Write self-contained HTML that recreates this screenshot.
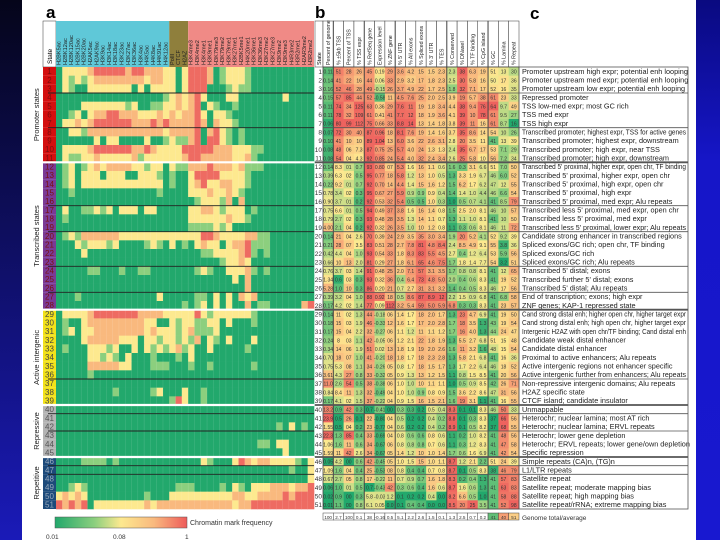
<!DOCTYPE html>
<html><head><meta charset="utf-8">
<style>
html,body{margin:0;padding:0;width:720px;height:540px;overflow:hidden;background:#fff}
svg{display:block;font-family:"Liberation Sans",sans-serif}
</style></head>
<body>
<svg id="fig" width="720" height="540" viewBox="0 0 720 540">
<defs>
<linearGradient id="lbg" x1="0" y1="0" x2="0" y2="1"><stop offset="0" stop-color="#05051a"/><stop offset="1" stop-color="#1a1ab8"/></linearGradient>
<linearGradient id="rbg" x1="0" y1="0" x2="0" y2="1"><stop offset="0" stop-color="#0a0a80"/><stop offset="0.3" stop-color="#1616c8"/><stop offset="1" stop-color="#1818d0"/></linearGradient>
<linearGradient id="cbar" x1="0" y1="0" x2="1" y2="0"><stop offset="0" stop-color="#22a86c"/><stop offset="0.3" stop-color="#8ccf7e"/><stop offset="0.5" stop-color="#fde98f"/><stop offset="0.75" stop-color="#f9b97e"/><stop offset="1" stop-color="#ee5b5a"/></linearGradient>
</defs>
<rect x="0" y="0" width="22" height="540" fill="url(#lbg)"/>
<rect x="696" y="0" width="24" height="540" fill="url(#rbg)"/>
<text x="46" y="18" font-size="17" font-weight="bold">a</text>
<text x="315" y="18" font-size="17" font-weight="bold">b</text>
<text x="530" y="19" font-size="17" font-weight="bold">c</text>
<g id="hm"></g><g id="tb"></g>
<rect x="55" y="517" width="132" height="11" fill="url(#cbar)" stroke="#555" stroke-width="0.5"/>
<text x="46" y="539" font-size="6.5" fill="#333">0.01</text>
<text x="113" y="539" font-size="6.5" fill="#333">0.08</text>
<text x="185" y="539" font-size="6.5" fill="#333">1</text>
<text x="190" y="525" font-size="7" fill="#333">Chromatin mark frequency</text>
</svg>
<script>
const NS='http://www.w3.org/2000/svg';
const acetylMarks=["H2BK5ac","H2BK12ac","H2BK120ac","H2BK15ac","H2BK20ac","H2AK5ac","H2AK9ac","H3K9ac","H3K14ac","H3K18ac","H3K23ac","H3K27ac","H3K36ac","H3K4ac","H4K5ac","H4K8ac","H4K91ac","H4K12ac"];
const otherMarks=["PolII","CTCF","H2AZ"];
const methMarks=["H3K4me3","H3K4me2","H3K4me1","H3K9me1","H3K79me3","H3K79me2","H3K79me1","H3K27me1","H2BK5me1","H4K20me1","H3K36me1","H3K36me3","H3K27me2","H3K27me3","H3K9me2","H3K9me3","H4R3me2","H3R2me1","H2AR3me2","H3R2me2"];
const markLevels=[
"022223444443443332202"+"44430122210000000000",
"021212333333332332202"+"44430122210000000000",
"021002222222020222202"+"44400012110000000000",
"000000000000000001232"+"34200022000000020000",
"000022222221200112232"+"34021001000000000000",
"001202334433322232323"+"34202210000000000000",
"022323444444333434333"+"34303221000000000000",
"002213333333333332333"+"34034210100000000000",
"000000202200002001211"+"34044210100000000000",
"022223444444334322224"+"44443332221100000000",
"021122322222312222223"+"44333332231000000000",
"012012323333221220211"+"33343332311100000000",
"012022202220022210100"+"24444222210000000000",
"012022222222222220100"+"23422332210000000000",
"001000000000000010000"+"22232232100000000000",
"000000000000000000000"+"01222130300000000000",
"020011212022202200000"+"22332122201000000000",
"010000000000000000000"+"22222232210000000000",
"000000000000000000000"+"11112120000000000000",
"012133333322222222222"+"22443222233110000000",
"000212221200001210201"+"02322023341110000000",
"000020000000000000000"+"00112222341010000000",
"000000000000000000000"+"00000122320000000000",
"000001100010011000000"+"01210022231010000000",
"000000000000000000000"+"00000002030000000000",
"000000000000000000000"+"00000000030000000000",
"000100000000000020000"+"01102020323000000000",
"000000000000000000001"+"01202020030110000034",
"022223444444433332222"+"24212222221000000000",
"010023333333332200212"+"21122020001000000000",
"012022333333332322212"+"31112000000000000000",
"000023333322202212212"+"13021020002000000000",
"010002221200202121231"+"20020000010000000000",
"000002212102000100010"+"20000000000000000000",
"000003333322000111000"+"10010000001000000000",
"000001000000000000000"+"00000000000000000000",
"000000000000000000000"+"00000000000000000000",
"000000000100000120002"+"00100000000000000000",
"000000000000000000142"+"00100000000000000000",
"000000000000000000000"+"00000000000000000000",
"000000000000000000000"+"00000000000000000000",
"000000000000000000000"+"00000000000000102010",
"000000000000000000000"+"00000000000000000000",
"000000000000000000000"+"00000000000110220000",
"000000000000000000000"+"00000000000000020000",
"000011110100000000000"+"00210002432332222102",
"000000000000000000000"+"00000000000000001002",
"000000000000000000000"+"00000000000000000002",
"001210000000000000011"+"10000102102223332334",
"232320000000001000222"+"22222223322333343444",
"434340222222223233333"+"33333332334444444444"];
const groupNames=["Promoter states","Transcribed states","Active intergenic","Repressive","Repetitive"];
const groupStarts=[1,12,29,40,46];
const groupEnds=[11,28,39,45,51];
const groupColors=["#d40f0f","#7a3a96","#f2e21a","#b4b4b4","#1d4a7a"];
const innerBreaks=[3,7,16,19,23,26,36,40,42,46,47];
const tableHeaders=["Percent of genome","% ±5kb TSS","Percent of TSS","% TSS expr","% RefSeq gene","Expression level","% ZNF gene","% 5' UTR","% All exons","% Spliced exons","% 3' UTR","% TES","% Conserved","% DNaseI","% TF binding","% CpG island","% GC","% Lamina","% Repeat"];
const tableRows=[
"0.11 51 28 26 45 0.19 29 3.6 4.2 15 1.5 2.3 2.3 38 6.3 19 51 13 30",
"0.14 41 22 16 44 0.06 33 2.9 3.2 17 1.8 2.3 2.5 30 5.8 16 50 17 36",
"0.16 52 46 28 49 -0.15 26 3.7 4.9 22 1.7 2.5 1.8 32 7.1 17 52 16 35",
"0.15 57 85 44 52 -0.58 11 4.5 7.6 25 2.0 2.5 3.9 19 5.7 38 61 23 33",
"0.11 74 34 125 63 0.36 29 7.6 11 19 1.8 3.4 4.4 38 9.4 76 64 9.7 49",
"0.11 78 32 109 61 0.41 41 7.7 12 18 1.9 3.6 4.1 39 10 78 61 9.5 27",
"0.06 80 99 112 75 0.66 33 8.8 14 13 1.4 1.8 3.8 39 11 16 61 8.7 16",
"0.07 72 30 40 87 0.96 18 8.1 7.6 19 1.4 1.6 3.7 35 8.6 14 54 10 26",
"0.10 41 10 10 89 1.04 13 6.0 3.6 22 2.6 3.1 2.8 20 3.5 11 41 13 39",
"0.08 48 06 7.3 87 0.75 25 5.7 4.0 24 1.3 1.3 2.4 35 6.7 17 53 7.1 29",
"0.08 54 04 4.3 92 0.85 24 5.4 4.0 32 2.4 3.4 2.6 25 5.8 10 56 7.2 34",
"0.14 8.3 01 0.7 93 0.80 07 5.3 1.6 16 1.1 0.6 1.6 0.3 3.1 6.6 51 7.0 50",
"0.39 6.3 02 0.5 95 0.77 18 5.8 1.2 13 1.0 0.5 1.3 3.3 1.9 6.7 46 6.0 52",
"0.22 9.2 01 0.7 92 0.70 14 4.4 1.4 15 1.6 1.2 1.5 6.2 1.7 6.2 47 12 55",
"0.78 3.4 02 0.3 95 0.67 27 5.9 0.9 0.9 0.9 0.4 1.4 1.4 1.0 4.4 46 6.6 54",
"0.90 3.7 01 0.2 92 0.53 32 5.4 0.5 0.5 1.0 0.3 1.0 0.5 0.7 4.1 41 8.5 79",
"0.75 6.6 01 0.5 94 0.49 37 3.8 1.6 16 1.4 0.8 1.5 2.5 2.0 8.1 46 10 57",
"0.79 2.7 02 0.3 93 0.48 28 3.5 1.3 14 1.1 0.7 1.3 1.1 1.0 8.1 41 10 50",
"4.00 2.1 04 0.2 92 0.32 26 3.5 1.0 10 1.2 0.8 1.1 0.3 0.6 8.1 46 11 72",
"0.14 21 04 2.6 70 0.39 24 2.9 3.5 35 3.0 3.4 1.9 20 5.2 4.1 52 9.2 39",
"0.21 28 07 3.5 83 0.51 28 2.7 7.8 81 4.8 8.4 2.4 8.5 4.9 9.1 55 3.8 36",
"0.42 4.4 04 1.0 93 0.54 33 1.8 8.3 83 5.5 4.5 2.7 0.4 1.2 6.4 53 5.9 56",
"0.66 10 13 2.0 81 0.29 27 1.8 6.1 65 4.6 7.5 1.7 1.8 1.4 7.7 54 3.2 51",
"0.76 3.7 03 1.4 91 0.48 25 2.0 7.1 57 3.1 3.5 1.7 0.8 0.8 8.1 41 12 65",
"1.34 0.6 03 0.3 93 0.32 36 0.4 6.4 73 4.8 5.0 2.0 0.4 0.6 8.3 41 19 52",
"5.28 1.0 10 0.3 86 0.20 21 0.7 2.7 31 3.1 3.2 1.4 0.4 0.5 8.3 46 17 56",
"0.39 3.2 04 1.0 88 0.92 18 0.5 8.6 87 8.9 12 2.2 1.5 0.9 6.8 41 6.8 58",
"0.17 4.2 02 1.4 77 0.09 112 3.2 5.4 59 5.0 5.9 6.8 0.3 0.3 8.3 41 23 57",
"0.14 11 02 1.3 44 -0.18 06 1.4 1.7 18 2.0 1.7 1.3 23 4.7 6.9 41 19 50",
"0.18 15 03 1.9 46 -0.33 12 1.6 1.7 17 2.0 2.8 1.7 18 3.5 1.3 43 19 54",
"0.17 15 04 2.2 32 -0.27 06 1.1 1.2 11 1.1 1.2 1.7 16 4.0 1.3 44 24 47",
"0.24 8 03 1.1 42 -0.05 06 1.2 2.1 22 1.8 1.9 1.3 5.5 2.7 6.8 51 15 48",
"0.34 14 06 1.9 51 0.02 13 1.8 1.9 19 2.0 2.6 1.6 11 3.2 1.6 48 15 54",
"0.70 18 07 1.0 41 -0.20 18 1.8 1.7 18 2.3 2.8 1.3 5.8 2.1 6.8 41 16 36",
"0.75 5.3 08 1.1 34 -0.26 05 0.8 1.7 18 1.5 1.7 1.3 1.7 2.2 6.4 46 18 52",
"3.61 4.3 27 0.8 33 -0.32 05 0.9 1.3 13 1.2 1.5 1.1 0.8 1.5 8.5 41 20 56",
"11.0 2.6 54 0.5 38 -0.38 06 1.0 1.0 10 1.1 1.1 1.0 0.5 0.9 8.5 42 26 71",
"0.84 8.4 11 1.3 32 -0.49 04 1.0 1.0 0.9 0.8 0.9 1.5 3.6 2.2 8.6 47 31 56",
"0.17 4.1 02 1.5 37 -0.22 04 0.9 1.5 16 1.5 2.1 1.6 19 3.1 1.1 41 16 55",
"13.2 0.9 42 0.3 0.7 -0.41 00 0.3 0.3 0.2 0.5 0.4 8.3 0.1 0.1 8.3 46 50 33",
"23.9 0.5 26 0.1 22 -0.80 04 0.5 0.2 0.2 0.4 0.2 8.8 0.1 0.3 8.3 37 66 56",
"1.55 0.5 04 0.2 23 -0.77 04 0.6 0.2 0.2 0.4 0.2 8.9 0.1 0.5 8.2 37 68 55",
"22.3 1.3 85 0.4 33 -0.69 04 0.8 0.6 0.6 0.8 0.6 1.1 0.2 1.0 8.2 41 48 56",
"1.06 1.6 11 0.6 34 -0.67 06 0.8 0.8 0.8 0.7 0.6 1.1 0.3 1.2 8.3 41 47 58",
"1.59 11 42 2.6 34 -0.67 05 1.4 1.2 10 1.0 1.4 1.7 0.6 1.6 6.9 41 42 54",
"0.05 4.2 00 0.6 42 -0.45 05 1.0 1.5 15 1.0 1.1 8.7 1.2 2.1 2.2 51 24 39",
"1.09 1.6 04 0.4 25 -0.53 08 0.8 0.4 0.4 0.7 0.8 8.7 0.1 0.5 8.3 38 46 79",
"0.67 2.7 05 0.8 17 -0.22 11 0.7 0.9 0.7 1.6 1.8 8.3 0.2 0.4 1.3 41 57 83",
"0.06 1.0 01 0.5 0.7 -0.43 42 0.3 0.6 0.4 1.6 0.6 8.7 1.6 0.6 1.3 41 63 83",
"0.02 0.9 00 0.3 5.8 -0.03 1.2 0.1 0.2 0.2 0.4 0.0 8.2 6.6 0.5 1.0 41 58 88",
"0.01 1.1 00 0.8 6.1 0.05 0.0 0.1 0.4 0.4 0.0 0.0 8.5 20 25 3.5 41 52 98"];
const genomeTotals="100 2.7 100 0.1 38 -0.16 0.5 5.1 2.2 2.6 1.5 0.1 1.3 2.5 0.7 0.2 41 40 51";
const descriptions=["Promoter upstream high expr; potential enh looping","Promoter upstream med expr; potential enh looping","Promoter upstream low expr; potential enh looping","Repressed promoter","TSS low-med expr; most GC rich","TSS med expr","TSS high expr","Transcribed promoter; highest expr, TSS for active genes","Transcribed promoter; highest expr, downstream","Transcribed promoter; high expr, near TSS","Transcribed promoter; high expr, downstream","Transcribed 5' proximal, higher expr, open chr, TF binding","Transcribed 5' proximal, higher expr, open chr","Transcribed 5' proximal, high expr, open chr","Transcribed 5' proximal, high expr","Transcribed 5' proximal, med expr; Alu repeats","Transcribed less 5' proximal, med expr, open chr","Transcribed less 5' proximal, med expr","Transcribed less 5' proximal, lower expr; Alu repeats","Candidate strong enhancer in transcribed regions","Spliced exons/GC rich; open chr, TF binding","Spliced exons/GC rich","Spliced exons/GC rich; Alu repeats","Transcribed 5' distal; exons","Transcribed further 5' distal; exons","Transcribed 5' distal; Alu repeats","End of transcription; exons; high expr","ZNF genes; KAP-1 repressed state","Cand strong distal enh; higher open chr, higher target expr","Cand strong distal enh; high open chr, higher target expr","Intergenic H2AZ with open chr/TF binding; Cand distal enh","Candidate weak distal enhancer","Candidate distal enhancer","Proximal to active enhancers; Alu repeats","Active intergenic regions not enhancer specific","Active intergenic further from enhancers; Alu repeats","Non-repressive intergenic domains; Alu repeats","H2AZ specific state","CTCF island; candidate insulator","Unmappable","Heterochr; nuclear lamina; most AT rich","Heterochr; nuclear lamina; ERVL repeats","Heterochr; lower gene depletion","Heterochr; ERVL repeats; lower gene/own depletion","Specific repression","Simple repeats (CA)n, (TG)n","L1/LTR repeats","Satellite repeat","Satellite repeat; moderate mapping bias","Satellite repeat; high mapping bias","Satellite repeat/rRNA; extreme mapping bias"];

const levelColors=["#22a86c","#8ccf7e","#fde98f","#f9b97e","#ee6b62"];
const stops=[[34,168,108],[140,207,126],[253,233,143],[249,185,126],[238,98,94]];
function ramp(t){t=Math.max(0,Math.min(1,t))*4;const i=Math.min(3,Math.floor(t)),f=t-i;const a=stops[i],b=stops[i+1];return `rgb(${a.map((v,k)=>Math.round(v+(b[k]-v)*f)).join(',')})`;}
function mk(tag,attrs,parent){const e=document.createElementNS(NS,tag);for(const k in attrs)e.setAttribute(k,attrs[k]);parent.appendChild(e);return e;}

const Y0=67, Y1=509, N=markLevels.length;
const RH=(Y1-Y0)/N;
const yRow=i=>Y0+i*RH;
const marks=acetylMarks.concat(otherMarks,methMarks);
const HX0=56, HX1=314, CW=(HX1-HX0)/marks.length;
const xCol=j=>HX0+j*CW;
const hm=document.getElementById('hm');

// header a
let hb;
hb=mk('rect',{x:43,y:21,width:13,height:46,fill:'#fff',stroke:'#333','stroke-width':0.5},hm);


let st=mk('text',{x:0,y:0,'font-size':6.5,transform:`translate(52,64) rotate(-90)`},hm);st.textContent='State';


const hdrFill=[['#5fc8d8',0,acetylMarks.length],['#8f7f3c',acetylMarks.length,otherMarks.length],['#f08a86',acetylMarks.length+otherMarks.length,methMarks.length]];
hdrFill.forEach(([c,s,n],k)=>{const r=mk('rect',{x:xCol(s),y:21,width:n*CW,height:46,fill:c},hm);

});
marks.forEach((m,j)=>{const t=mk('text',{x:0,y:0,'font-size':5.6,fill:'#222',transform:`translate(${xCol(j)+CW*0.72},65) rotate(-90)`},hm);t.textContent=m;

});

// cells
markLevels.forEach((row,i)=>{for(let j=0;j<marks.length;j++){const lv=+row[j]||0;
const r=mk('rect',{x:xCol(j),y:yRow(i),width:CW+0.3,height:RH+0.3,fill:levelColors[lv]},hm);

}});
// faint grid
for(let j=1;j<marks.length;j++){mk('line',{x1:xCol(j),x2:xCol(j),y1:Y0,y2:Y1,stroke:'#ffffff','stroke-opacity':0.18,'stroke-width':0.5},hm);}
// state labels & groups
for(let i=0;i<N;i++){const s=i+1;const g=groupStarts.filter(v=>v<=s).length-1;
const r=mk('rect',{x:43,y:yRow(i),width:13,height:RH,fill:groupColors[g]},hm);


const t=mk('text',{x:49.5,y:yRow(i)+RH-1.5,'font-size':8,'text-anchor':'middle',fill:g==4?'#9ab':(g==3?'#555':(g==2?'#444':'#7a1010'))},hm);t.textContent=s;

}
groupNames.forEach((n,g)=>{const cy=(yRow(groupStarts[g]-1)+yRow(groupEnds[g]))/2;
const t=mk('text',{x:0,y:0,'font-size':7.5,'text-anchor':'middle',fill:'#222',transform:`translate(39,${cy}) rotate(-90)`},hm);t.textContent=n;


if(g>0){const l=mk('line',{x1:43,x2:HX1,y1:yRow(groupStarts[g]-1),y2:yRow(groupStarts[g]-1),stroke:'#fff','stroke-width':2.2},hm);}});
innerBreaks.forEach(b=>{mk('line',{x1:48,x2:HX1,y1:yRow(b),y2:yRow(b),stroke:'#222','stroke-width':0.9},hm);});

// table b
const tb=document.getElementById('tb');
const TX0=323, TX1=519, TC=(TX1-TX0)/tableHeaders.length;
const xT=j=>TX0+j*TC;
const parsed=tableRows.map(r=>r.split(' '));
const ncol=tableHeaders.length;
const colNorm=[];
for(let j=0;j<ncol;j++){const vs=parsed.map(r=>parseFloat(r[j]));const lin=(j===5||j===16);
const f=v=>lin?v:Math.log(Math.max(v,0.05));const mn=Math.min(...vs.map(f)),mx=Math.max(...vs.map(f));colNorm.push(v=>(f(v)-mn)/(mx-mn||1));}
// header
hb=mk('rect',{x:315,y:21,width:8,height:46,fill:'#fff',stroke:'#333','stroke-width':0.5},tb);
st=mk('text',{x:0,y:0,'font-size':5.5,transform:`translate(321,65) rotate(-90)`},tb);st.textContent='State';


tableHeaders.forEach((h,j)=>{const r=mk('rect',{x:xT(j),y:21,width:TC,height:46,fill:'#fff',stroke:'#333','stroke-width':0.5},tb);


const t=mk('text',{x:0,y:0,'font-size':5.3,fill:'#222',transform:`translate(${xT(j)+TC*0.68},65) rotate(-90)`},tb);t.textContent=h;

});
parsed.forEach((row,i)=>{
const sn=mk('text',{x:322,y:yRow(i)+RH-1.8,'font-size':6.5,'text-anchor':'end',fill:'#333'},tb);sn.textContent=i+1;


row.forEach((v,j)=>{const r=mk('rect',{x:xT(j),y:yRow(i),width:TC+0.3,height:RH+0.3,fill:ramp(colNorm[j](parseFloat(v)))},tb);


const t=mk('text',{x:xT(j)+TC/2,y:yRow(i)+RH-2,'font-size':5,'text-anchor':'middle',fill:'#333'},tb);t.textContent=v;

});
const d=mk('text',{x:522,y:yRow(i)+RH-1.8,'font-size':7.3,fill:'#222',textLength:undefined},tb);d.textContent=descriptions[i];
if(descriptions[i].length>52){d.setAttribute('textLength',164);d.setAttribute('lengthAdjust','spacingAndGlyphs');}

});
// table group separators
[1,4,7,12,16].forEach(j=>{mk('line',{x1:xT(j),x2:xT(j),y1:21,y2:Y1,stroke:'#444','stroke-width':1},tb);});
mk('rect',{x:TX0,y:Y0,width:TX1-TX0,height:Y1-Y0,fill:'none',stroke:'#444','stroke-width':0.8},tb);
mk('rect',{x:TX1,y:Y0,width:688-TX1,height:Y1-Y0,fill:'#fff','fill-opacity':0,stroke:'#555','stroke-width':0.8},tb);
groupStarts.slice(1).forEach(s=>{mk('line',{x1:315,x2:688,y1:yRow(s-1),y2:yRow(s-1),stroke:'#555','stroke-width':1.8},tb);});
innerBreaks.forEach(b=>{mk('line',{x1:TX0,x2:688,y1:yRow(b),y2:yRow(b),stroke:'#555','stroke-width':0.8},tb);});
// genome total row
genomeTotals.split(' ').forEach((v,j)=>{const r=mk('rect',{x:xT(j),y:513,width:TC,height:7,fill:j>=16?ramp(colNorm[j](parseFloat(v))):'#fff',stroke:'#444','stroke-width':0.5},tb);


const t=mk('text',{x:xT(j)+TC/2,y:519,'font-size':4.6,'text-anchor':'middle',fill:'#333'},tb);t.textContent=v;

});
const gt=mk('text',{x:522,y:520,'font-size':6.5,fill:'#333'},tb);gt.textContent='Genome total/average';


</script>
</body></html>
